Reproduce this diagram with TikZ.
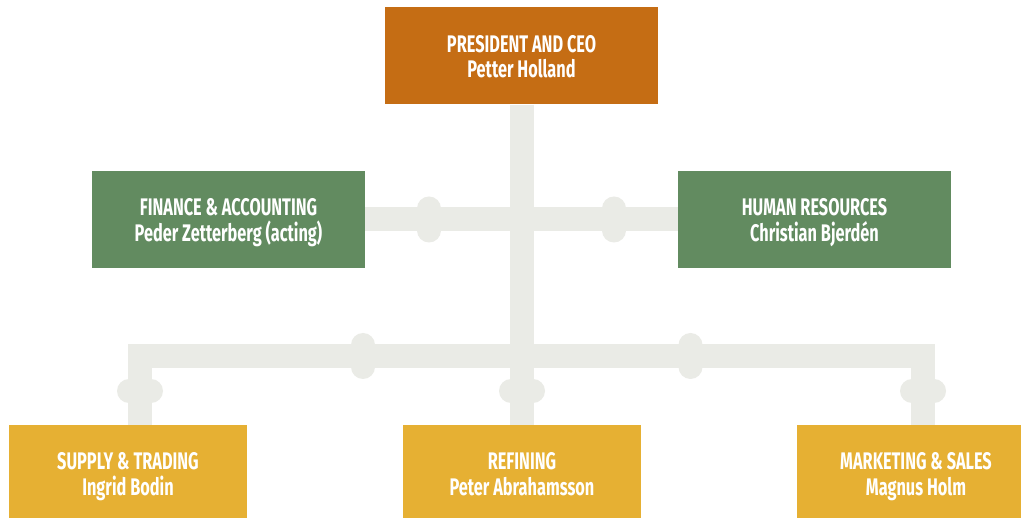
\documentclass[tikz,border=0pt]{standalone}
\usepackage{fontspec}
\setmainfont{Fira Sans}[FakeStretch=0.68]
\definecolor{pipegray}{HTML}{EAEBE6}
\definecolor{ceoorange}{HTML}{C56D14}
\definecolor{deptgreen}{HTML}{628B60}
\definecolor{unitgold}{HTML}{E6B033}
\pgfdeclarelayer{background}
\pgfdeclarelayer{canvas}
\pgfsetlayers{canvas,background,main}
% two-line label: title over name, with fixed top and bottom struts
\newcommand{\rolelabel}[2]{\rule{0pt}{23.5pt}#1\\#2\vphantom{g}}
\begin{document}
\begin{tikzpicture}[x=1pt,y=-1pt,
  box/.style={rectangle, minimum width=273pt, minimum height=97pt, inner sep=0pt,
    text=white, align=center, font=\bfseries\fontsize{24}{25.7}\selectfont},
  ceobox/.style={box, fill=ceoorange},
  deptbox/.style={box, fill=deptgreen},
  unitbox/.style={box, fill=unitgold, minimum width=238pt},
  pipe/.style={draw=pipegray, line width=24pt, line cap=butt, line join=miter},
  flangeonh/.style={rectangle, fill=pipegray, rounded corners=12pt, inner sep=0pt,
    minimum width=24pt, minimum height=46pt},
  flangeonv/.style={rectangle, fill=pipegray, rounded corners=12pt, inner sep=0pt,
    minimum width=46pt, minimum height=24pt}]
\clip (0,0) rectangle (1021,518);
\begin{pgfonlayer}{canvas}
  \fill[white] (0,0) rectangle (1021,518);
\end{pgfonlayer}

% organisation boxes
\node[ceobox]  (ceo) at (521.5,56)    {\rolelabel{PRESIDENT AND CEO}{Petter Holland}};
\node[deptbox] (fin) at (228.5,219.5) {\rolelabel{FINANCE \& ACCOUNTING}{Peder Zetterberg (acting)}};
\node[deptbox] (hr)  at (814.5,219.5) {\rolelabel{HUMAN RESOURCES}{Christian Bjerdén}};
\node[unitbox] (sup) at (128,473.5)   {\rolelabel{SUPPLY \& TRADING}{Ingrid Bodin}};
\node[unitbox] (ref) at (522,473.5)   {\rolelabel{REFINING}{Peter Abrahamsson}};
\node[unitbox] (mkt) at (916,473.5)   {\rolelabel{MARKETING \& SALES}{Magnus Holm}};

% pipe corners of the lower branch
\coordinate (jl) at (140,356);
\coordinate (jr) at (923,356);

\begin{pgfonlayer}{background}
  % pipes
  \draw[pipe] (ceo.south) -- (ceo.south |- ref.north);
  \draw[pipe] (fin) -- (hr);
  \draw[pipe] (jl |- sup.north) -- (jl) -- (jr) -- (jr |- mkt.north);
  % flanges
  \node[flangeonh] (f1) at (429,219.5) {};
  \node[flangeonh] (f2) at (614,219.5) {};
  \node[flangeonh] (f3) at (363,356) {};
  \node[flangeonh] (f4) at (690.5,356) {};
  \node[flangeonv] (f5) at (140,391) {};
  \node[flangeonv] (f6) at (522,391) {};
  \node[flangeonv] (f7) at (923,391) {};
\end{pgfonlayer}
\end{tikzpicture}
\end{document}
